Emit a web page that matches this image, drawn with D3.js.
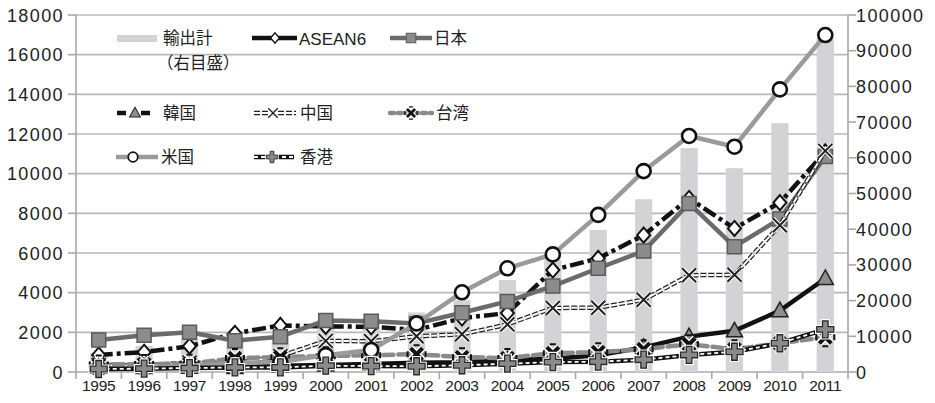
<!DOCTYPE html>
<html>
<head>
<meta charset="utf-8">
<script src="https://cdn.jsdelivr.net/npm/d3@7/dist/d3.min.js"></script>
<style>
  html, body { margin: 0; padding: 0; background: #fff; }
  svg { display: block; }
  .num { font-family: "Liberation Sans", Arial, sans-serif; fill: #222; }
  .jp { font-family: "Noto Sans CJK JP", sans-serif; fill: #222; }
</style>
</head>
<body>
<svg id="chart" width="935" height="403"></svg>
<script>
// Export destinations by year (left axis), total exports (right axis)
const years = ["1995","1996","1997","1998","1999","2000","2001","2002","2003","2004","2005","2006","2007","2008","2009","2010","2011"];
const exportsTotal = [5400, 7300, 9200, 9400, 11500, 14500, 15000, 16700, 20100, 25800, 31500, 39800, 48400, 62700, 57100, 69700, 93500];
const asean6 = [860, 1000, 1300, 1950, 2350, 2300, 2280, 2120, 2720, 2970, 5140, 5730, 6900, 8750, 7240, 8540, 11100];
const japan  = [1610, 1850, 2000, 1580, 1780, 2600, 2560, 2450, 2990, 3560, 4330, 5230, 6100, 8500, 6320, 7720, 10860];
const korea  = [235, 229, 238, 229, 319, 353, 406, 469, 492, 607, 664, 843, 1243, 1784, 2077, 3092, 4715];
const china  = [360, 330, 470, 440, 800, 1570, 1550, 1800, 1900, 2400, 3230, 3240, 3640, 4880, 4900, 7400, 11150];
const taiwan = [380, 400, 420, 700, 750, 800, 850, 900, 750, 700, 950, 1000, 1150, 1400, 1150, 1450, 1750];
const usa    = [170, 200, 290, 470, 500, 850, 1110, 2450, 4020, 5230, 5930, 7920, 10130, 11900, 11360, 14250, 16990];
const hongkong = [150, 170, 200, 230, 230, 320, 300, 290, 340, 420, 500, 520, 620, 860, 1020, 1450, 2150];
const leftTicks = [0, 2000, 4000, 6000, 8000, 10000, 12000, 14000, 16000, 18000];
const rightTicks = [0, 10000, 20000, 30000, 40000, 50000, 60000, 70000, 80000, 90000, 100000];

const svg = d3.select("#chart");
const L = 76, R = 848, T = 15, B = 372;

const x = d3.scaleBand().domain(years).range([L, R]).paddingInner(0.62).paddingOuter(0.31);
const cx = d => x(d) + x.bandwidth() / 2;
const yL = d3.scaleLinear().domain([0, 18000]).range([B, T]);
const yR = d3.scaleLinear().domain([0, 100000]).range([B, T]);

const axisGray = "#a8a8a8";

// horizontal gridlines
svg.append("g").selectAll("line").data(leftTicks.slice(1)).join("line")
  .attr("x1", L).attr("x2", R).attr("y1", d => yL(d)).attr("y2", d => yL(d))
  .attr("stroke", "#b9b9b9").attr("stroke-width", 1.6);

// left axis
const gl = svg.append("g");
gl.append("line").attr("x1", L).attr("x2", L).attr("y1", T).attr("y2", B).attr("stroke", axisGray).attr("stroke-width", 1.6);
gl.selectAll("line.t").data(leftTicks).join("line").attr("class", "t")
  .attr("x1", L - 8).attr("x2", L).attr("y1", d => yL(d)).attr("y2", d => yL(d))
  .attr("stroke", axisGray).attr("stroke-width", 1.6);
gl.selectAll("text").data(leftTicks).join("text").attr("class", "num")
  .attr("x", 64).attr("y", d => yL(d) + 6.5).attr("text-anchor", "end")
  .attr("font-size", 18).attr("letter-spacing", 1.4)
  .text(d => d);

// right axis
const gr = svg.append("g");
gr.append("line").attr("x1", R).attr("x2", R).attr("y1", T).attr("y2", B).attr("stroke", axisGray).attr("stroke-width", 1.6);
gr.selectAll("line.t").data(rightTicks).join("line").attr("class", "t")
  .attr("x1", R).attr("x2", R + 8).attr("y1", d => yR(d)).attr("y2", d => yR(d))
  .attr("stroke", axisGray).attr("stroke-width", 1.6);
gr.selectAll("text").data(rightTicks).join("text").attr("class", "num")
  .attr("x", 856).attr("y", d => yR(d) + 6.5).attr("text-anchor", "start")
  .attr("font-size", 18).attr("letter-spacing", 1.4)
  .text(d => d);

// bottom axis with category boundary ticks
const step = x.step();
const bounds = d3.range(years.length + 1).map(i => L + i * step);
const gb = svg.append("g");
gb.append("line").attr("x1", L).attr("x2", R).attr("y1", B).attr("y2", B).attr("stroke", axisGray).attr("stroke-width", 1.6);
gb.selectAll("line.t").data(bounds).join("line").attr("class", "t")
  .attr("x1", d => d).attr("x2", d => d).attr("y1", B).attr("y2", B + 7)
  .attr("stroke", axisGray).attr("stroke-width", 1.6);
gb.selectAll("text").data(years).join("text").attr("class", "num")
  .attr("x", d => cx(d)).attr("y", 391).attr("text-anchor", "middle")
  .attr("font-size", 15.5).attr("letter-spacing", -0.3)
  .text(d => d);

// total export bars (right axis)
svg.append("g").selectAll("rect").data(years).join("rect")
  .attr("x", d => x(d)).attr("width", x.bandwidth())
  .attr("y", (d, i) => yR(exportsTotal[i])).attr("height", (d, i) => B - yR(exportsTotal[i]))
  .attr("fill", "#d3d3d5");

// marker shapes
const shapes = {
  diamond: "M0,-7.5L6.5,0L0,7.5L-6.5,0Z",
  square: "M-7,-7H7V7H-7Z",
  triangle: "M0,-8.5L8,6L-8,6Z",
  plus: "M-2.8,-8.5H2.8V-2.8H8.5V2.8H2.8V8.5H-2.8V2.8H-8.5V-2.8H-2.8Z"
};

function drawMarker(g, type, px, py, k = 1) {
  const m = g.append("g").attr("transform", `translate(${px},${py}) scale(${k})`);
  if (type === "diamond") {
    m.append("path").attr("d", shapes.diamond).attr("fill", "#fff").attr("stroke", "#111").attr("stroke-width", 2);
  } else if (type === "square") {
    m.append("path").attr("d", shapes.square).attr("fill", "#8c8c8c").attr("stroke", "#5a5a5a").attr("stroke-width", 1.5);
  } else if (type === "triangle") {
    m.append("path").attr("d", shapes.triangle).attr("fill", "#8e8e8e").attr("stroke", "#222").attr("stroke-width", 1.5);
  } else if (type === "x") {
    m.append("path").attr("d", "M-7,-7L7,7M-7,7L7,-7").attr("stroke", "#fff").attr("stroke-width", 4);
    m.append("path").attr("d", "M-7,-7L7,7M-7,7L7,-7").attr("stroke", "#222").attr("stroke-width", 2);
  } else if (type === "star") {
    m.append("path").attr("d", "M-6,-6L6,6M-6,6L6,-6").attr("stroke", "#fff").attr("stroke-width", 7);
    m.append("path").attr("d", "M-6,-6L6,6M-6,6L6,-6").attr("stroke", "#111").attr("stroke-width", 4);
    m.append("path").attr("d", "M-9,-3V3M9,-3V3M-3,-9H3M-3,9H3").attr("stroke", "#111").attr("stroke-width", 2);
  } else if (type === "circle") {
    m.append("circle").attr("r", 7).attr("fill", "#fff").attr("stroke", "#111").attr("stroke-width", 2.6);
  } else if (type === "plus") {
    m.append("path").attr("d", shapes.plus).attr("fill", "#fff").attr("stroke", "#fff").attr("stroke-width", 3.5);
    m.append("path").attr("d", shapes.plus).attr("fill", "#8a8a8a").attr("stroke", "#2a2a2a").attr("stroke-width", 1.3);
  }
}

// line layer styles: each entry is one or more stacked strokes
const series = [
  { name: "ASEAN6", values: asean6, marker: "diamond",
    strokes: [{ c: "#111", w: 4.5, dash: "14,4,4,4" }] },
  { name: "日本", values: japan, marker: "square",
    strokes: [{ c: "#6b6b6b", w: 4.5 }] },
  { name: "韓国", values: korea, marker: "triangle",
    strokes: [{ c: "#111", w: 4.5 }] },
  { name: "中国", values: china, marker: "x",
    strokes: [{ c: "#222", w: 4.5, dash: "6,2" }, { c: "#fff", w: 2, dash: "6,2" }] },
  { name: "台湾", values: taiwan, marker: "star",
    strokes: [{ c: "#8a8a8a", w: 4.5, dash: "10,5", cap: "round" }] },
  { name: "米国", values: usa, marker: "circle",
    strokes: [{ c: "#9a9a9a", w: 4.5 }] },
  { name: "香港", values: hongkong, marker: "plus",
    strokes: [{ c: "#111", w: 4.5 }, { c: "#fff", w: 1.8, dash: "4,3" }] }
];

const line = d3.line().x(d => cx(d.year)).y(d => yL(d.v));
const plot = svg.append("g");
series.forEach(s => {
  const pts = years.map((yr, i) => ({ year: yr, v: s.values[i] }));
  const g = plot.append("g");
  s.strokes.forEach(st => {
    g.append("path").datum(pts).attr("d", line).attr("fill", "none")
      .attr("stroke", st.c).attr("stroke-width", st.w)
      .attr("stroke-dasharray", st.dash || null)
      .attr("stroke-linecap", st.cap || "butt").attr("stroke-linejoin", "round");
  });
  pts.forEach(p => drawMarker(g, s.marker, cx(p.year), yL(p.v)));
});

// legend
const lg = svg.append("g");
const legendText = (tx, ty, t) => lg.append("text").attr("class", "jp").attr("x", tx).attr("y", ty)
  .attr("font-size", 16.5).text(t);

function legendSwatch(x0, x1, ym, strokes, marker, mx) {
  strokes.forEach(st => {
    lg.append("line").attr("x1", x0).attr("x2", x1).attr("y1", ym).attr("y2", ym)
      .attr("stroke", st.c).attr("stroke-width", st.w)
      .attr("stroke-dasharray", st.dash || null).attr("stroke-linecap", st.cap || "butt");
  });
  drawMarker(lg, marker, mx, ym, 0.68);
}

// row 1
lg.append("rect").attr("x", 117).attr("y", 35).attr("width", 40).attr("height", 7).attr("fill", "#d3d3d5");
legendText(163, 44, "輸出計");
legendText(157, 69, "（右目盛）");
legendSwatch(252, 297, 38, [{ c: "#111", w: 4.5 }], "diamond", 275);
lg.append("text").attr("class", "num").attr("x", 299).attr("y", 44.5).attr("font-size", 17).text("ASEAN6");
legendSwatch(390, 432, 38, [{ c: "#6b6b6b", w: 4.5 }], "square", 411);
legendText(434, 44, "日本");

// row 2
legendSwatch(117, 155, 113, [{ c: "#111", w: 4.5, dash: "9,6,3,6" }], "triangle", 135);
legendText(163, 119, "韓国");
legendSwatch(254, 296, 113, [{ c: "#222", w: 4.5, dash: "6,2" }, { c: "#fff", w: 2, dash: "6,2" }], "x", 273);
legendText(300, 119, "中国");
legendSwatch(390, 432, 113, [{ c: "#8a8a8a", w: 4.5, dash: "4,4", cap: "round" }], "star", 411);
legendText(436, 119, "台湾");

// row 3
legendSwatch(116, 158, 157, [{ c: "#9a9a9a", w: 4.5 }], "circle", 133);
legendText(161, 163, "米国");
legendSwatch(254, 294, 157, [{ c: "#111", w: 4.5 }, { c: "#fff", w: 1.8, dash: "4,3" }], "plus", 272);
legendText(300, 163, "香港");
</script>
</body>
</html>
